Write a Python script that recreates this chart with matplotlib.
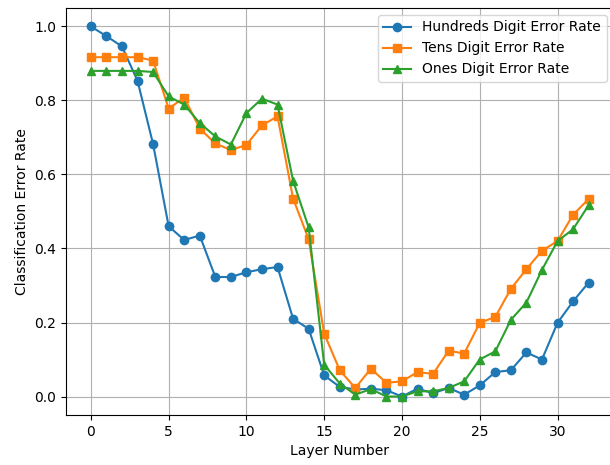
import matplotlib
matplotlib.use("Agg")
import matplotlib.pyplot as plt

layers = list(range(33))
hundreds = [1.0, 0.974, 0.946, 0.853, 0.682, 0.46, 0.423, 0.435, 0.323, 0.323, 0.336,
            0.344, 0.35, 0.21, 0.183, 0.057, 0.026, 0.019, 0.021, 0.017, 0.0,
            0.021, 0.009, 0.023, 0.005, 0.03, 0.066, 0.071, 0.119, 0.10, 0.199,
            0.257, 0.308]
tens = [0.917, 0.917, 0.917, 0.917, 0.908, 0.778, 0.808, 0.724, 0.684, 0.666, 0.68,
        0.733, 0.757, 0.535, 0.425, 0.17, 0.071, 0.023, 0.075, 0.037, 0.041,
        0.066, 0.061, 0.124, 0.116, 0.199, 0.215, 0.291, 0.344, 0.394, 0.42,
        0.491, 0.534]
ones = [0.88, 0.88, 0.88, 0.88, 0.877, 0.811, 0.789, 0.739, 0.703, 0.681, 0.766,
        0.805, 0.789, 0.583, 0.457, 0.086, 0.035, 0.005, 0.02, 0.0, 0.0,
        0.014, 0.014, 0.023, 0.041, 0.10, 0.122, 0.207, 0.254, 0.342, 0.42,
        0.452, 0.517]

fig = plt.figure(figsize=(6.1, 4.65), dpi=100)
ax = fig.add_axes([66/610, 1-415/465, (613.5-66)/610, (415-8)/465])
ax.plot(layers, hundreds, marker='o', label='Hundreds Digit Error Rate')
ax.plot(layers, tens, marker='s', label='Tens Digit Error Rate')
ax.plot(layers, ones, marker='^', label='Ones Digit Error Rate')
ax.set_xlabel('Layer Number')
ax.set_ylabel('Classification Error Rate')
ax.legend(loc='upper right')
ax.grid(True)
fig.savefig('out.png', dpi=100)
